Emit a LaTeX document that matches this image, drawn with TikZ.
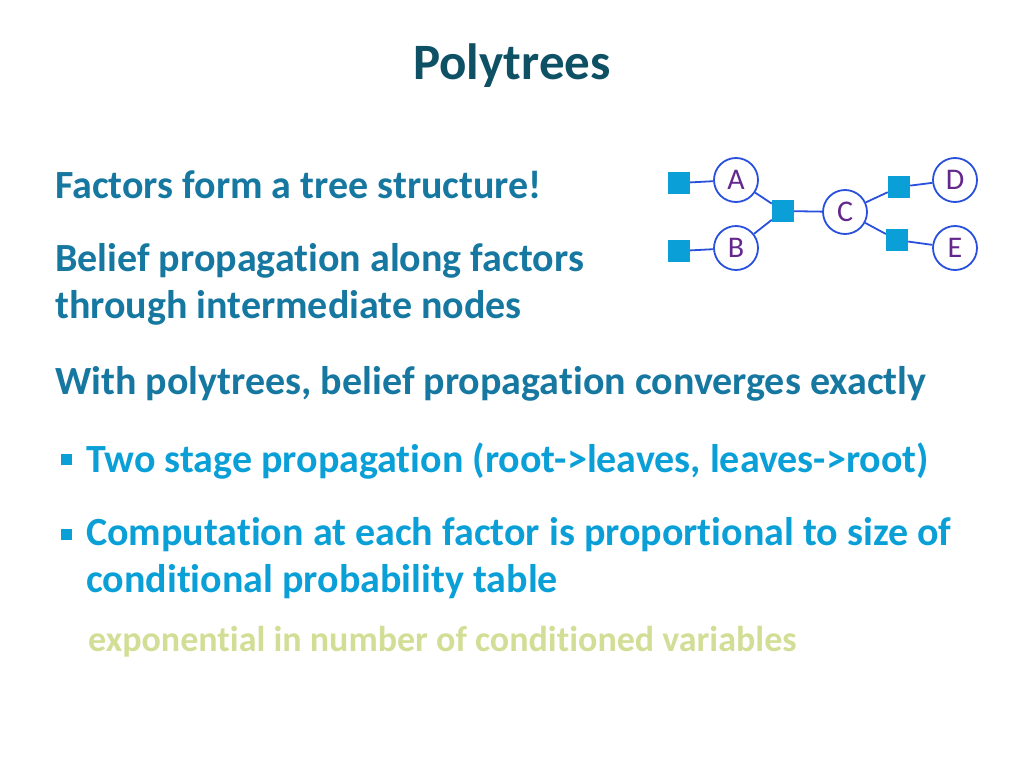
\documentclass[tikz,border=0pt]{standalone}
\usepackage{fontspec}
\setmainfont[Ligatures=NoCommon]{Carlito}
\definecolor{titlec}{RGB}{14,80,100}
\definecolor{headc}{RGB}{22,120,160}
\definecolor{bulc}{RGB}{10,160,215}
\definecolor{greenc}{RGB}{210,222,150}
\definecolor{edgec}{RGB}{40,80,220}
\definecolor{labc}{RGB}{100,40,140}
\begin{document}
\begin{tikzpicture}[x=1pt,y=-1pt,
  var/.style={circle,draw=edgec,line width=1.8pt,fill=white,minimum size=44pt,inner sep=0pt,text=labc,font=\fontsize{30}{32}\selectfont},
  fac/.style={rectangle,fill=bulc,minimum size=22pt,inner sep=0pt},
  ln/.style={edgec,line width=1.8pt},
  txt/.style={anchor=west,inner sep=0pt,font=\bfseries\fontsize{40}{47}\selectfont}]
\useasboundingbox (0,0) rectangle (1024,768);
\node[font=\bfseries\fontsize{51}{56}\selectfont,text=titlec] (title) at (512,66) {Polytrees};
\node[txt,text=headc] (t1) at (55,185) {Factors form a tree structure!};
\node[txt,text=headc,align=left] (t2) at (55,284) {Belief propagation along factors\\through intermediate nodes};
\node[txt,text=headc] (t3) at (55,384) {With polytrees, belief propagation converges exactly};
\node[fac,minimum size=11pt] (b1) at (66,459) {};
\node[txt,text=bulc] (t4) at (86,461) {Two stage propagation (root->leaves, leaves->root)};
\node[fac,minimum size=11pt] (b2) at (66,534) {};
\node[txt,text=bulc,align=left] (t5) at (86,558) {Computation at each factor is proportional to size of\\conditional probability table};
\node[txt,text=greenc,font=\bfseries\fontsize{36}{40}\selectfont] (t6) at (88,642) {exponential in number of conditioned variables};
\node[var] (A) at (736,180) {A};
\node[var] (B) at (736,248) {B};
\node[var] (C) at (845,212) {C};
\node[var] (D) at (955,180) {D};
\node[var] (E) at (955,248) {E};
\node[fac] (fA) at (679,183) {};
\node[fac] (fB) at (679,251) {};
\node[fac] (fAB) at (783,211) {};
\node[fac] (fD) at (899,187) {};
\node[fac] (fE) at (897,240) {};
\draw[ln] (fA) -- (A);
\draw[ln] (fB) -- (B);
\draw[ln] (A) -- (fAB);
\draw[ln] (B) -- (fAB);
\draw[ln] (fAB) -- (C);
\draw[ln] (C) -- (fD);
\draw[ln] (fD) -- (D);
\draw[ln] (C) -- (fE);
\draw[ln] (fE) -- (E);
\end{tikzpicture}
\end{document}
